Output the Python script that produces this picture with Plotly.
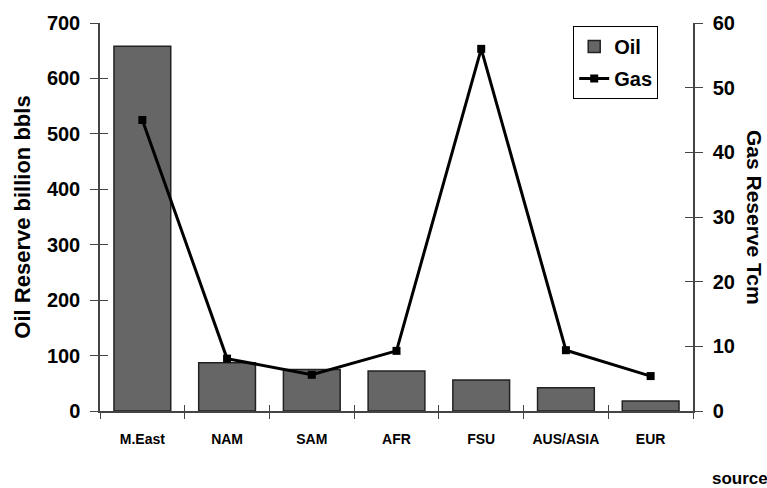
import plotly.graph_objects as go

# Proven reserves by region
regions = ["M.East", "NAM", "SAM", "AFR", "FSU", "AUS/ASIA", "EUR"]
oil_bbls = [658, 87, 75, 72, 56, 42, 18]          # billion barrels
gas_tcm = [45.0, 8.1, 5.6, 9.3, 56.0, 9.4, 5.4]   # trillion cubic metres

FONT = "Liberation Sans"
AXIS_CLR = "#444444"

fig = go.Figure()

fig.add_trace(go.Bar(
    x=regions, y=oil_bbls, name="Oil",
    marker=dict(color="#666666", line=dict(color="#222222", width=1.5)),
    width=0.67, legendgroup="oil",
))
fig.add_trace(go.Scatter(
    x=regions, y=gas_tcm, name="Gas", yaxis="y2",
    mode="lines+markers",
    line=dict(color="black", width=3),
    marker=dict(symbol="square", size=8, color="black"),
    legendgroup="gas",
))

# empty traces so the overlay axes (inner half of the crossing ticks) get drawn
for xa, ya in [("x", "y3"), ("x", "y4"), ("x2", "y")]:
    fig.add_trace(go.Scatter(x=[], y=[], xaxis=xa, yaxis=ya,
                             showlegend=False, hoverinfo="skip"))

tick_font = dict(family=FONT, size=20, color="black", weight="bold")

fig.update_layout(
    width=767, height=488,
    margin=dict(l=100, r=74, t=18, b=77),
    paper_bgcolor="white", plot_bgcolor="white",
    showlegend=True,
    legend=dict(
        x=0.798, y=0.992, xanchor="left", yanchor="top",
        bordercolor="black", borderwidth=1, bgcolor="white",
        font=dict(family=FONT, size=20, color="black", weight="bold"),
        tracegroupgap=3, itemwidth=30,
    ),
    xaxis=dict(
        type="category", tickson="boundaries",
        ticks="outside", ticklen=6, tickcolor=AXIS_CLR,
        showline=True, linecolor=AXIS_CLR, linewidth=1.5,
        showgrid=False, zeroline=False,
        tickfont=dict(family=FONT, size=14, color="black", weight="bold"),
        ticklabelstandoff=14,
    ),
    xaxis2=dict(
        overlaying="x", anchor="y", type="linear",
        range=[-0.5, 6.5], tick0=0.5, dtick=1,
        ticks="inside", ticklen=6, tickcolor=AXIS_CLR,
        showticklabels=False, showgrid=False, zeroline=False, showline=False,
    ),
    yaxis=dict(
        range=[0, 700], dtick=100,
        ticks="outside", ticklen=8, tickcolor=AXIS_CLR,
        showline=True, linecolor=AXIS_CLR, linewidth=1.5,
        showgrid=False, zeroline=False,
        tickfont=tick_font, ticklabelstandoff=6,
        title=dict(text="Oil Reserve billion bbls", standoff=10,
                   font=dict(family=FONT, size=22, color="black", weight="bold")),
    ),
    yaxis2=dict(
        overlaying="y", side="right", anchor="x",
        range=[0, 60], dtick=10,
        ticks="outside", ticklen=8, tickcolor=AXIS_CLR,
        showline=True, linecolor=AXIS_CLR, linewidth=1.5,
        showgrid=False, zeroline=False,
        tickfont=tick_font, ticklabelstandoff=6,
    ),
    yaxis3=dict(
        overlaying="y", side="left", anchor="x",
        range=[0, 700], dtick=100,
        ticks="inside", ticklen=8, tickcolor=AXIS_CLR,
        showticklabels=False, showgrid=False, zeroline=False, showline=False,
    ),
    yaxis4=dict(
        overlaying="y", side="right", anchor="x",
        range=[0, 60], dtick=10,
        ticks="inside", ticklen=8, tickcolor=AXIS_CLR,
        showticklabels=False, showgrid=False, zeroline=False, showline=False,
    ),
    annotations=[
        dict(text="Gas Reserve Tcm", textangle=90,
             xref="paper", yref="paper", x=1.0, y=0.5,
             xanchor="center", yanchor="middle", xshift=62, showarrow=False,
             font=dict(family=FONT, size=21, color="black", weight="bold")),
        dict(text="source", xref="paper", yref="paper",
             x=1.0, y=0.0, xanchor="left", yanchor="middle",
             xshift=17, yshift=-67, showarrow=False,
             font=dict(family=FONT, size=17, color="black", weight="bold")),
    ],
)

fig.write_html("out.html")
